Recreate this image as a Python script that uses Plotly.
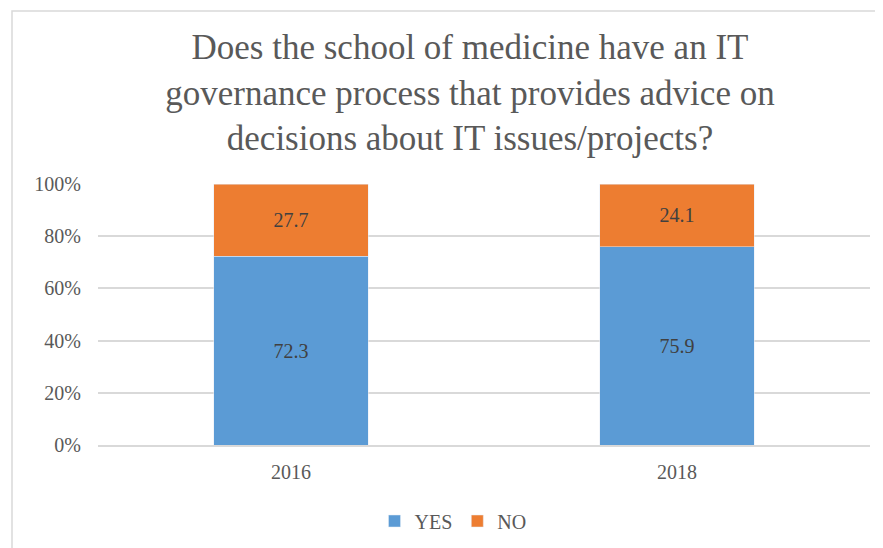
import plotly.graph_objects as go

years = ["2016", "2018"]
yes_vals = [72.3, 75.9]
no_vals = [27.7, 24.1]
y_ticks = [0, 20, 40, 60, 80, 100]
y_tick_labels = ["0%", "20%", "40%", "60%", "80%", "100%"]

title_text = ("Does the school of medicine have an IT<br>"
              "governance process that provides advice on<br>"
              "decisions about IT issues/projects?")

SERIF = "Times New Roman, Liberation Serif, serif"

OFF = 8  # page body margin
W, H = 883 - OFF, 548 - OFF
L, R, T = 98 - OFF, 13, 184 - OFF
ph = 261
B = H - T - ph
pw = W - L - R

label_font = dict(family=SERIF, size=20, color="#404040")

fig = go.Figure()
fig.add_trace(go.Bar(
    x=years, y=yes_vals, name="YES", marker_color="#5B9BD5",
    text=[f"{v:.1f}" for v in yes_vals], textposition="inside",
    insidetextanchor="middle", textfont=label_font, width=0.4,
))
fig.add_trace(go.Bar(
    x=years, y=no_vals, name="NO", marker_color="#ED7D31",
    text=[f"{v:.1f}" for v in no_vals], textposition="inside",
    insidetextanchor="middle", textfont=label_font, width=0.4,
))

tick_font = dict(family=SERIF, size=20, color="#595959")

fig.update_layout(
    barmode="stack",
    width=W, height=H,
    margin=dict(l=L, r=R, t=T, b=B, autoexpand=False),
    paper_bgcolor="white", plot_bgcolor="white",
    font=dict(family=SERIF, color="#595959"),
    uniformtext=dict(minsize=20, mode="show"),
    title=dict(text=title_text, x=(470 - 98) / pw, xanchor="center", xref="paper",
               y=1 - (59 - OFF) / H, yanchor="middle", yref="container",
               font=dict(family=SERIF, size=35, color="#595959")),
    showlegend=True,
    legend=dict(orientation="h", x=(453 - 98) / pw, xanchor="center",
                y=-(521 - 184 - ph) / ph, yanchor="middle",
                font=dict(family=SERIF, size=20, color="#595959"),
                itemwidth=30, traceorder="normal"),
    xaxis=dict(showline=True, linecolor="#D9D9D9", linewidth=1.5,
               tickfont=tick_font, ticks="", ticklabelstandoff=8),
    yaxis=dict(range=[0, 100], tickvals=y_ticks, ticktext=y_tick_labels,
               showgrid=True, gridcolor="#D9D9D9", gridwidth=1.5,
               zeroline=False, showline=False,
               tickfont=tick_font, ticks="", ticklabelstandoff=16),
    shapes=[dict(type="rect", xref="paper", yref="paper",
                 x0=(12 - 98) / pw, x1=(883 + 10 - 98) / pw,
                 y0=-(548 + 10 - 184 - ph) / ph, y1=1 + (184 - 11) / ph,
                 line=dict(color="#D9D9D9", width=1.5), layer="below")],
)

fig.write_html("out.html")
